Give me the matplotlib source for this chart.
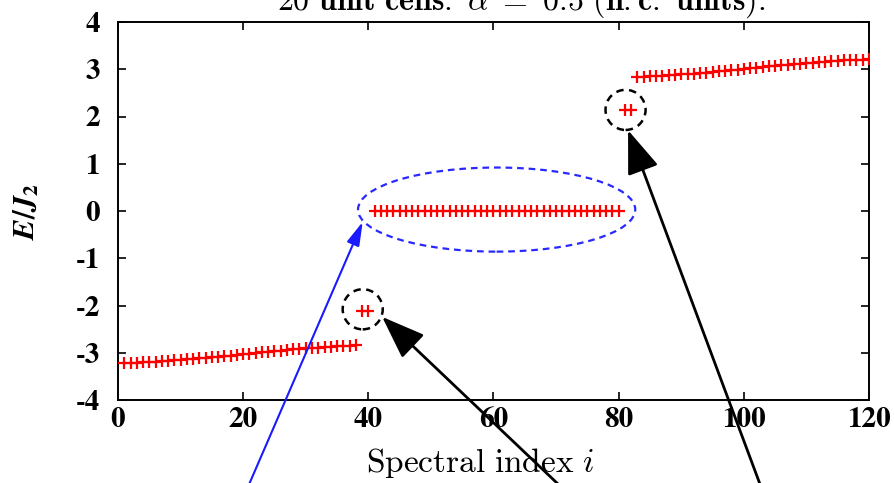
import numpy as np
import matplotlib
matplotlib.use('Agg')
import matplotlib.pyplot as plt
from matplotlib.patches import Ellipse

plt.rcParams['mathtext.fontset'] = 'cm'
plt.rcParams['mathtext.it'] = 'STIXGeneral:italic:bold'
plt.rcParams['mathtext.rm'] = 'STIXGeneral:bold'
plt.rcParams['font.family'] = ['DejaVu Serif']
plt.rcParams['axes.unicode_minus'] = False

# 能谱数据 (20 unit cells)
lower_band = [-3.22, -3.21, -3.21, -3.20, -3.20, -3.19, -3.18, -3.17, -3.16, -3.15,
              -3.14, -3.13, -3.12, -3.11, -3.10, -3.08, -3.07, -3.06, -3.05, -3.03,
              -3.02, -3.01, -2.99, -2.98, -2.97, -2.96, -2.94, -2.93, -2.92, -2.91,
              -2.90, -2.89, -2.88, -2.87, -2.86, -2.85, -2.85, -2.84]
lower_edge = [-2.12, -2.12]
zero_modes = [0.0] * 40
upper_edge = [2.13, 2.13]
upper_band = [2.84, 2.84, 2.85, 2.85, 2.86, 2.87, 2.88, 2.89, 2.90, 2.91,
              2.92, 2.93, 2.94, 2.96, 2.97, 2.98, 2.99, 3.01, 3.02, 3.03,
              3.05, 3.06, 3.07, 3.08, 3.10, 3.11, 3.12, 3.13, 3.14, 3.15,
              3.16, 3.17, 3.18, 3.19, 3.19, 3.20, 3.20, 3.21]

energies = lower_band + lower_edge + zero_modes + upper_edge + upper_band
spectral_index = np.arange(1, len(energies) + 1)

xticks = [0, 20, 40, 60, 80, 100, 120]
yticks = [-4, -3, -2, -1, 0, 1, 2, 3, 4]

fig = plt.figure(figsize=(8.95, 4.83), dpi=100)
ax = fig.add_axes([118 / 895, 83 / 483, 751 / 895, 378 / 483])

ax.plot(spectral_index, energies, linestyle='none', marker='+', color='red',
        markersize=8, markeredgewidth=1.6, zorder=3)

ax.set_xlim(0, 120)
ax.set_ylim(-4, 4)
ax.set_xticks(xticks)
ax.set_yticks(yticks)
ax.set_xticklabels([str(t) for t in xticks], family='STIXGeneral',
                   fontweight='bold', fontsize=21)
ax.set_yticklabels([str(t) for t in yticks], family='STIXGeneral',
                   fontweight='bold', fontsize=21)
ax.tick_params(direction='in', top=True, right=True, length=6, width=1.2)
ax.tick_params(axis='x', pad=5)
ax.tick_params(axis='y', pad=13)
for s in ax.spines.values():
    s.set_linewidth(1.4)

ax.set_xlabel(r'$\mathrm{Spectral\ index}\ i$', fontsize=24)
ax.xaxis.set_label_coords(0.482, -0.122)
ax.set_ylabel(r'$E/J_2$', fontsize=22, math_fontfamily='custom')
ax.yaxis.set_label_coords(-0.101, 0.5)

# 标注: 椭圆和圆
ax.add_patch(Ellipse((60.5, 0.03), 44.3, 1.78, fill=False, edgecolor='#2828ff',
                     linestyle=(0, (3, 2.2)), linewidth=1.6, zorder=4))
for cx, cy in [(39.1, -2.08), (81.1, 2.14)]:
    ax.add_patch(Ellipse((cx, cy), 6.4, 0.85, fill=False, edgecolor='black',
                         linestyle=(0, (3, 2.2)), linewidth=1.8, zorder=4))

# 箭头
ax.annotate('', xy=(39.1, -0.23), xycoords='data', xytext=(241, -20),
            textcoords='figure pixels',
            arrowprops=dict(arrowstyle='-|>,head_length=0.72,head_width=0.2',
                            color='#1a1aff', lw=1.5, shrinkA=0, shrinkB=0,
                            mutation_scale=20))
ax.annotate('', xy=(42.2, -2.24), xycoords='data', xytext=(578, -20),
            textcoords='figure pixels',
            arrowprops=dict(arrowstyle='-|>,head_length=1.35,head_width=0.5',
                            color='black', lw=2, shrinkA=0, shrinkB=0,
                            mutation_scale=20))
ax.annotate('', xy=(81.5, 1.71), xycoords='data', xytext=(767, -20),
            textcoords='figure pixels',
            arrowprops=dict(arrowstyle='-|>,head_length=1.35,head_width=0.5',
                            color='black', lw=2, shrinkA=0, shrinkB=0,
                            mutation_scale=20))

# 标题 (上半部分被裁掉)
fig.text(521 / 895, (483 - 10) / 483,
         r'$\mathbf{20\ unit\ cells.}\ \alpha\ \mathbf{=\ 0.5\ (n.c.\ units).}$',
         ha='center', va='baseline', fontsize=23)

fig.savefig('out.png', dpi=100)
